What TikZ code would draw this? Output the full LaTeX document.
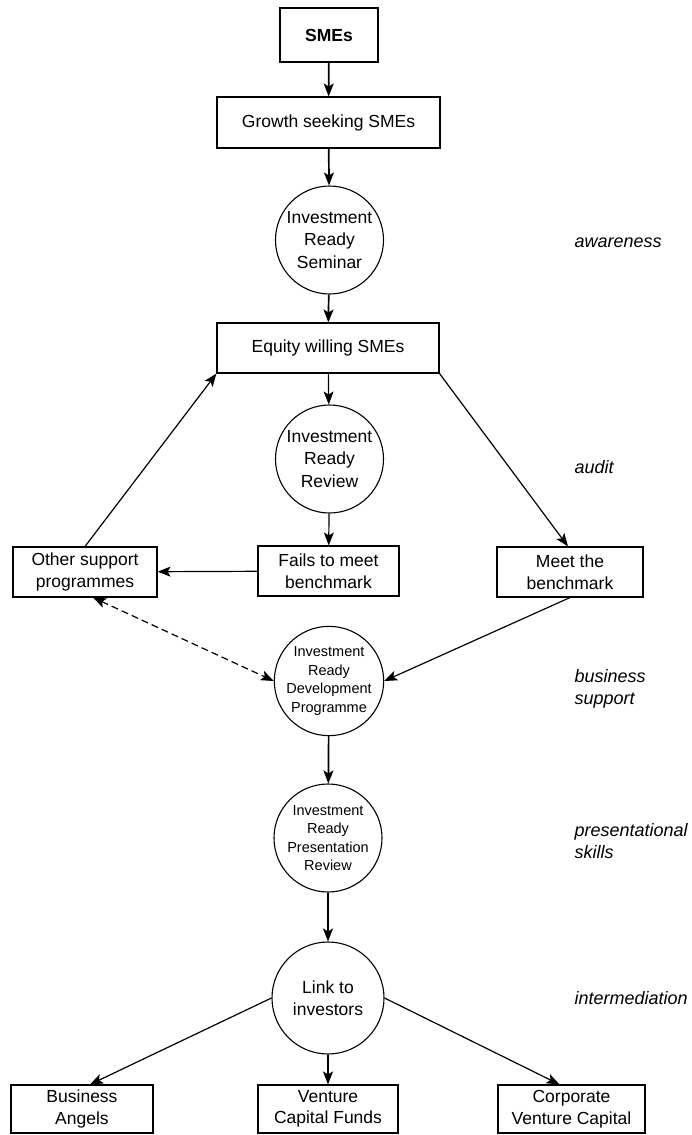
\documentclass[tikz,border=0pt]{standalone}
\usepackage{fontspec}
\setmainfont{Liberation Sans}
\usepackage{tikz}
\usetikzlibrary{arrows.meta}
\tikzset{
  box/.style={draw=black, line width=1.1pt, rectangle, inner sep=0pt, align=center,
    font=\fontsize{17.5}{21.5}\selectfont},
  boxb/.style={box, line width=1.8pt, font=\bfseries\fontsize{17.5}{21.5}\selectfont},
  circ/.style={draw=black, line width=1.1pt, circle, inner sep=0pt, minimum size=108pt,
    align=center, font=\fontsize{17.5}{22.5}\selectfont},
  circs/.style={circ, font=\fontsize{14.5}{18.6}\selectfont},
  lab/.style={anchor=west, align=left, font=\itshape\fontsize{18}{22}\selectfont},
  arr/.style={draw=black, line width=1.2pt, -{Stealth[length=13pt,width=10pt,inset=3pt]}},
  arrk/.style={arr, line width=1.7pt},
  arrd/.style={arr, dashed, dash pattern=on 7pt off 4pt,
    {Stealth[length=13pt,width=10pt,inset=3pt]}-{Stealth[length=13pt,width=10pt,inset=3pt]}},
}
\begin{document}
\begin{tikzpicture}[x=1pt, y=-1pt]
  \useasboundingbox (0,0) rectangle (691,1135);
  % main column
  \node[boxb, minimum width=98pt, minimum height=54pt] (smes) at (329,35) {SMEs};
  \node[box, minimum width=223pt, minimum height=51pt] (growth) at (328.5,122.5) {Growth seeking SMEs};
  \node[circ] (seminar) at (329.5,240) {Investment\\Ready\\Seminar};
  \node[box, minimum width=222pt, minimum height=50pt] (equity) at (328,348) {Equity willing SMEs};
  \node[circ] (review) at (329.5,459) {Investment\\Ready\\Review};
  \node[box, minimum width=141pt, minimum height=50pt] (fails) at (328.5,571) {Fails to meet\\benchmark};
  \node[box, minimum width=144pt, minimum height=50pt] (other) at (85,572) {Other support\\programmes};
  \node[box, minimum width=146pt, minimum height=50pt] (meet) at (570,572) {Meet the\\benchmark};
  \node[circs] (devel) at (329,681) {Investment\\Ready\\Development\\Programme};
  \node[circs] (pres) at (328,838) {Investment\\Ready\\Presentation\\Review};
  \node[circ, minimum size=112pt] (link) at (328,998) {Link to\\investors};
  % investors
  \node[box, minimum width=142pt, minimum height=48pt] (angels) at (82,1109) {Business\\Angels};
  \node[box, minimum width=140pt, minimum height=48pt] (venture) at (328,1109) {Venture\\Capital Funds};
  \node[box, minimum width=147pt, minimum height=48pt] (corp) at (571.5,1109) {Corporate\\Venture Capital};
  % stages
  \node[lab] (awareness) at (571,243) {awareness};
  \node[lab] (audit) at (571,467) {audit};
  \node[lab] (business) at (571,689) {business\\support};
  \node[lab] (presskills) at (571,841) {presentational\\skills};
  \node[lab] (intermed) at (571,998) {intermediation};
  % connectors
  \draw[arrk] (smes) -- (growth);
  \draw[arrk] (growth) -- (seminar);
  \draw[arrk] (seminar) -- (equity);
  \draw[arr] (equity) -- (review);
  \draw[arr] (review) -- (fails);
  \draw[arr] (fails) -- (other);
  \draw[arr] (other.north) -- (equity.south west);
  \draw[arr] (equity.south east) -- ([xshift=-2pt]meet.north);
  \draw[arr] (meet.south) -- (devel.east);
  \draw[arrd] ([xshift=8pt]other.south) -- (devel.west);
  \draw[arrk] (devel) -- (pres);
  \draw[arrk] (pres) -- (link);
  \draw[arr] (link.west) -- ([xshift=8pt]angels.north);
  \draw[arr] (link) -- (venture);
  \draw[arr] (link.east) -- ([xshift=-12pt]corp.north);
\end{tikzpicture}
\end{document}
